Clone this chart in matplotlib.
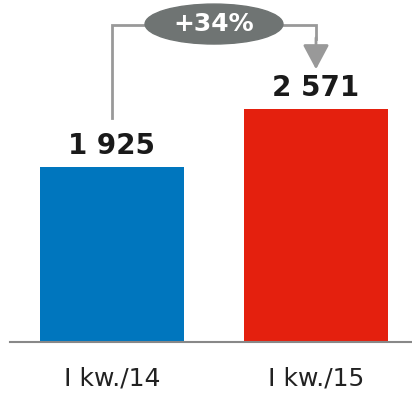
import matplotlib
matplotlib.use('Agg')
import matplotlib.pyplot as plt
from matplotlib.patches import Ellipse

# Dane
kategorie = ['I kw./14', 'I kw./15']
wartosci = [1925, 2571]
etykiety = ['1 925', '2 571']
kolory = ['#0076BE', '#E4200E']
zmiana = '+34%'

fig = plt.figure(figsize=(4.12, 3.95), dpi=100)
ax = fig.add_axes([10 / 412, (395 - 341.5) / 395, 1 - 10 / 412, 341.5 / 395])

x = list(range(len(kategorie)))
ax.bar(x, wartosci, width=0.706, color=kolory, zorder=2)

ax.set_xlim(-0.5, 1.4706)
ax.set_ylim(0, 3778)

for xi, v, t in zip(x, wartosci, etykiety):
    ax.text(xi, v + 150, t, ha='center', va='baseline', fontsize=20,
            fontweight='bold', color='#1a1a1a')

# Strzałka z procentową zmianą
szary = '#999999'
y_linia = 3500
ax.plot([x[0], x[0], 0.2], [wartosci[0] + 546, y_linia, y_linia],
        color=szary, lw=2, solid_joinstyle='miter', clip_on=False)
ax.plot([0.8, x[1], x[1]], [y_linia, y_linia, y_linia - 150], color=szary,
        lw=2, solid_joinstyle='miter', clip_on=False)
ax.annotate('', xy=(x[1], wartosci[1] + 440), xytext=(x[1], y_linia - 140),
            arrowprops=dict(arrowstyle='-|>,head_length=0.75,head_width=0.4',
                            mutation_scale=20, color=szary, lw=2,
                            shrinkA=0, shrinkB=0), annotation_clip=False)
ax.add_patch(Ellipse((0.5, 3512), 0.676, 442, color='#6F7473',
                     clip_on=False, zorder=3))
ax.text(0.5, 3512, zmiana, ha='center', va='center', fontsize=18,
        fontweight='bold', color='white', zorder=4)

for s in ['top', 'right', 'left']:
    ax.spines[s].set_visible(False)
ax.spines['bottom'].set_color('#888888')
ax.spines['bottom'].set_linewidth(1.5)
ax.set_yticks([])
ax.set_xticks(x)
ax.set_xticklabels(kategorie, fontsize=18, color='#222222')
ax.tick_params(axis='x', length=0, pad=18)

fig.savefig('out.png', dpi=100)
